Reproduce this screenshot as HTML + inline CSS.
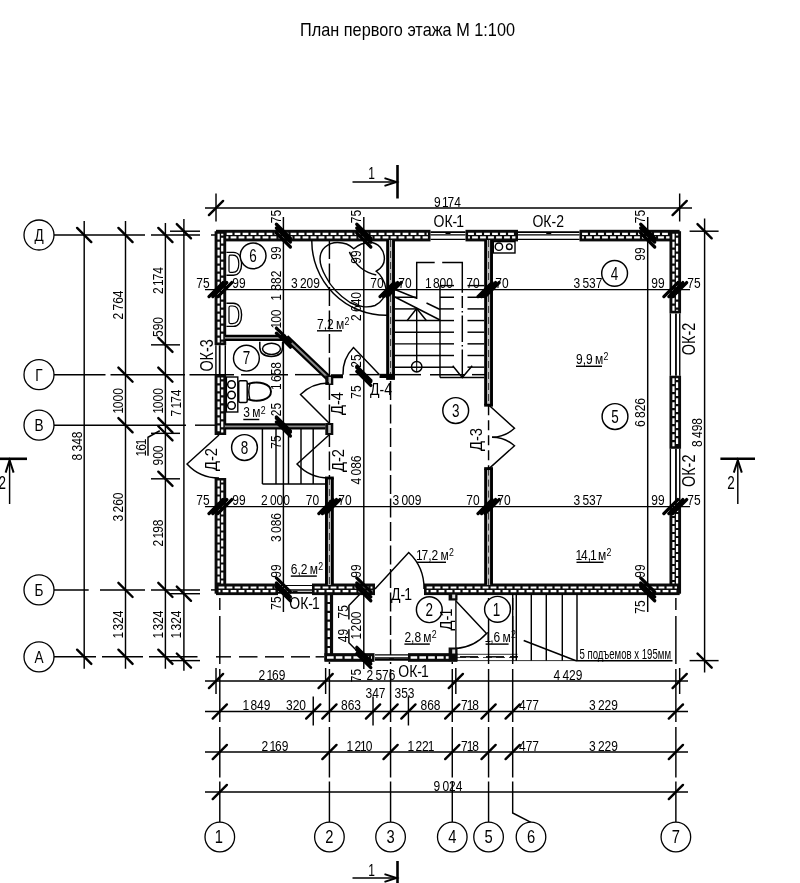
<!DOCTYPE html>
<html><head><meta charset="utf-8"><title>План первого этажа</title>
<style>
html,body{margin:0;padding:0;background:#fff;}
body{width:800px;height:883px;overflow:hidden;}
svg{display:block;font-family:"Liberation Sans",sans-serif;will-change:transform;}
</style></head><body>
<svg width="800" height="883" viewBox="0 0 800 883">
<rect x="0" y="0" width="800" height="883" fill="#fff"/>
<text x="300" y="36" font-size="18.5" textLength="215" lengthAdjust="spacingAndGlyphs" fill="#000">План первого этажа М 1:100</text>
<line x1="54.00" y1="235.00" x2="145.00" y2="235.00" stroke="#000" stroke-width="1.45"/>
<line x1="151.00" y1="235.00" x2="200.00" y2="235.00" stroke="#000" stroke-width="1.45"/>
<line x1="211.00" y1="235.00" x2="215.00" y2="235.00" stroke="#000" stroke-width="1.45"/>
<circle cx="39.00" cy="235.00" r="15.00" fill="#fff" stroke="#000" stroke-width="1.3"/>
<text transform="translate(39.00,241.00) rotate(0) scale(0.8,1)" font-size="17" text-anchor="middle" fill="#000">Д</text>
<line x1="54.00" y1="374.66" x2="105.50" y2="374.66" stroke="#000" stroke-width="1.45"/>
<line x1="110.50" y1="374.66" x2="185.00" y2="374.66" stroke="#000" stroke-width="1.45"/>
<line x1="189.50" y1="374.66" x2="234.00" y2="374.66" stroke="#000" stroke-width="1.45"/>
<line x1="241.00" y1="374.66" x2="288.00" y2="374.66" stroke="#000" stroke-width="1.45"/>
<line x1="295.00" y1="374.66" x2="321.50" y2="374.66" stroke="#000" stroke-width="1.45"/>
<line x1="349.50" y1="374.66" x2="379.00" y2="374.66" stroke="#000" stroke-width="1.45"/>
<line x1="395.00" y1="374.66" x2="421.00" y2="374.66" stroke="#000" stroke-width="1.45"/>
<line x1="430.00" y1="374.66" x2="465.00" y2="374.66" stroke="#000" stroke-width="1.45"/>
<line x1="472.00" y1="374.66" x2="489.50" y2="374.66" stroke="#000" stroke-width="1.45"/>
<circle cx="39.00" cy="374.66" r="15.00" fill="#fff" stroke="#000" stroke-width="1.3"/>
<text transform="translate(39.00,380.66) rotate(0) scale(0.8,1)" font-size="17" text-anchor="middle" fill="#000">Г</text>
<line x1="54.00" y1="425.19" x2="186.00" y2="425.19" stroke="#000" stroke-width="1.45"/>
<line x1="195.00" y1="425.19" x2="215.00" y2="425.19" stroke="#000" stroke-width="1.45"/>
<circle cx="39.00" cy="425.19" r="15.00" fill="#fff" stroke="#000" stroke-width="1.3"/>
<text transform="translate(39.00,431.19) rotate(0) scale(0.8,1)" font-size="17" text-anchor="middle" fill="#000">В</text>
<line x1="54.00" y1="589.92" x2="88.70" y2="589.92" stroke="#000" stroke-width="1.45"/>
<line x1="100.00" y1="589.92" x2="145.00" y2="589.92" stroke="#000" stroke-width="1.45"/>
<line x1="151.00" y1="589.92" x2="200.00" y2="589.92" stroke="#000" stroke-width="1.45"/>
<line x1="211.00" y1="589.92" x2="215.00" y2="589.92" stroke="#000" stroke-width="1.45"/>
<circle cx="39.00" cy="589.92" r="15.00" fill="#fff" stroke="#000" stroke-width="1.3"/>
<text transform="translate(39.00,595.92) rotate(0) scale(0.8,1)" font-size="17" text-anchor="middle" fill="#000">Б</text>
<line x1="54.00" y1="656.82" x2="96.00" y2="656.82" stroke="#000" stroke-width="1.45"/>
<line x1="102.00" y1="656.82" x2="143.00" y2="656.82" stroke="#000" stroke-width="1.45"/>
<line x1="149.00" y1="656.82" x2="197.50" y2="656.82" stroke="#000" stroke-width="1.45"/>
<line x1="216.00" y1="656.82" x2="231.00" y2="656.82" stroke="#000" stroke-width="1.45"/>
<line x1="239.00" y1="656.82" x2="257.50" y2="656.82" stroke="#000" stroke-width="1.45"/>
<line x1="265.00" y1="656.82" x2="284.00" y2="656.82" stroke="#000" stroke-width="1.45"/>
<line x1="291.00" y1="656.82" x2="310.00" y2="656.82" stroke="#000" stroke-width="1.45"/>
<line x1="315.60" y1="656.82" x2="324.00" y2="656.82" stroke="#000" stroke-width="1.45"/>
<line x1="460.00" y1="656.82" x2="478.00" y2="656.82" stroke="#000" stroke-width="1.45"/>
<line x1="486.00" y1="656.82" x2="504.00" y2="656.82" stroke="#000" stroke-width="1.45"/>
<line x1="510.00" y1="656.82" x2="518.00" y2="656.82" stroke="#000" stroke-width="1.45"/>
<circle cx="39.00" cy="656.82" r="15.00" fill="#fff" stroke="#000" stroke-width="1.3"/>
<text transform="translate(39.00,662.82) rotate(0) scale(0.8,1)" font-size="17" text-anchor="middle" fill="#000">А</text>
<line x1="219.80" y1="598.00" x2="219.80" y2="610.00" stroke="#000" stroke-width="1.45"/>
<line x1="219.80" y1="616.00" x2="219.80" y2="664.00" stroke="#000" stroke-width="1.45"/>
<line x1="219.80" y1="669.00" x2="219.80" y2="722.00" stroke="#000" stroke-width="1.45"/>
<line x1="219.80" y1="727.00" x2="219.80" y2="777.50" stroke="#000" stroke-width="1.45"/>
<line x1="219.80" y1="781.50" x2="219.80" y2="822.20" stroke="#000" stroke-width="1.45"/>
<circle cx="219.80" cy="837.00" r="14.80" fill="#fff" stroke="#000" stroke-width="1.3"/>
<text transform="translate(219.80,843.40) rotate(0) scale(0.82,1)" font-size="18" text-anchor="middle" fill="#000" dx="-1.25">1</text>
<line x1="329.42" y1="240.00" x2="329.42" y2="655.00" stroke="#000" stroke-width="1.45" stroke-dasharray="19 4.5"/>
<line x1="329.42" y1="662.00" x2="329.42" y2="664.00" stroke="#000" stroke-width="1.45"/>
<line x1="329.42" y1="669.00" x2="329.42" y2="722.00" stroke="#000" stroke-width="1.45"/>
<line x1="329.42" y1="727.00" x2="329.42" y2="777.50" stroke="#000" stroke-width="1.45"/>
<line x1="329.42" y1="781.50" x2="329.42" y2="822.20" stroke="#000" stroke-width="1.45"/>
<circle cx="329.42" cy="837.00" r="14.80" fill="#fff" stroke="#000" stroke-width="1.3"/>
<text transform="translate(329.42,843.40) rotate(0) scale(0.82,1)" font-size="18" text-anchor="middle" fill="#000">2</text>
<line x1="390.57" y1="240.00" x2="390.57" y2="655.00" stroke="#000" stroke-width="1.45" stroke-dasharray="19 4.5"/>
<line x1="390.57" y1="662.00" x2="390.57" y2="664.00" stroke="#000" stroke-width="1.45"/>
<line x1="390.57" y1="669.00" x2="390.57" y2="722.00" stroke="#000" stroke-width="1.45"/>
<line x1="390.57" y1="727.00" x2="390.57" y2="777.50" stroke="#000" stroke-width="1.45"/>
<line x1="390.57" y1="781.50" x2="390.57" y2="822.20" stroke="#000" stroke-width="1.45"/>
<circle cx="390.57" cy="837.00" r="14.80" fill="#fff" stroke="#000" stroke-width="1.3"/>
<text transform="translate(390.57,843.40) rotate(0) scale(0.82,1)" font-size="18" text-anchor="middle" fill="#000">3</text>
<line x1="452.28" y1="662.00" x2="452.28" y2="664.00" stroke="#000" stroke-width="1.45"/>
<line x1="452.28" y1="669.00" x2="452.28" y2="722.00" stroke="#000" stroke-width="1.45"/>
<line x1="452.28" y1="727.00" x2="452.28" y2="777.50" stroke="#000" stroke-width="1.45"/>
<line x1="452.28" y1="781.50" x2="452.28" y2="822.20" stroke="#000" stroke-width="1.45"/>
<circle cx="452.28" cy="837.00" r="14.80" fill="#fff" stroke="#000" stroke-width="1.3"/>
<text transform="translate(452.28,843.40) rotate(0) scale(0.82,1)" font-size="18" text-anchor="middle" fill="#000">4</text>
<line x1="488.57" y1="598.00" x2="488.57" y2="610.00" stroke="#000" stroke-width="1.45"/>
<line x1="488.57" y1="616.00" x2="488.57" y2="664.00" stroke="#000" stroke-width="1.45"/>
<line x1="488.57" y1="669.00" x2="488.57" y2="722.00" stroke="#000" stroke-width="1.45"/>
<line x1="488.57" y1="727.00" x2="488.57" y2="777.50" stroke="#000" stroke-width="1.45"/>
<line x1="488.57" y1="781.50" x2="488.57" y2="822.20" stroke="#000" stroke-width="1.45"/>
<circle cx="488.57" cy="837.00" r="14.80" fill="#fff" stroke="#000" stroke-width="1.3"/>
<text transform="translate(488.57,843.40) rotate(0) scale(0.82,1)" font-size="18" text-anchor="middle" fill="#000">5</text>
<line x1="512.68" y1="598.00" x2="512.68" y2="610.00" stroke="#000" stroke-width="1.45"/>
<line x1="512.68" y1="616.00" x2="512.68" y2="664.00" stroke="#000" stroke-width="1.45"/>
<line x1="512.68" y1="669.00" x2="512.68" y2="722.00" stroke="#000" stroke-width="1.45"/>
<line x1="512.68" y1="727.00" x2="512.68" y2="777.50" stroke="#000" stroke-width="1.45"/>
<polyline points="512.68,781.50 512.68,813.00 531.00,822.30" fill="none" stroke="#000" stroke-width="1.45"/>
<circle cx="531.00" cy="837.00" r="14.80" fill="#fff" stroke="#000" stroke-width="1.3"/>
<text transform="translate(531.00,843.40) rotate(0) scale(0.82,1)" font-size="18" text-anchor="middle" fill="#000">6</text>
<line x1="675.87" y1="598.00" x2="675.87" y2="610.00" stroke="#000" stroke-width="1.45"/>
<line x1="675.87" y1="616.00" x2="675.87" y2="664.00" stroke="#000" stroke-width="1.45"/>
<line x1="675.87" y1="669.00" x2="675.87" y2="722.00" stroke="#000" stroke-width="1.45"/>
<line x1="675.87" y1="727.00" x2="675.87" y2="777.50" stroke="#000" stroke-width="1.45"/>
<line x1="675.87" y1="781.50" x2="675.87" y2="822.20" stroke="#000" stroke-width="1.45"/>
<circle cx="675.87" cy="837.00" r="14.80" fill="#fff" stroke="#000" stroke-width="1.3"/>
<text transform="translate(675.87,843.40) rotate(0) scale(0.82,1)" font-size="18" text-anchor="middle" fill="#000">7</text>
<line x1="84.20" y1="221.00" x2="84.20" y2="668.82" stroke="#000" stroke-width="1.45"/>
<line x1="125.50" y1="221.00" x2="125.50" y2="668.82" stroke="#000" stroke-width="1.45"/>
<line x1="165.40" y1="223.00" x2="165.40" y2="668.82" stroke="#000" stroke-width="1.45"/>
<line x1="183.90" y1="219.00" x2="183.90" y2="670.82" stroke="#000" stroke-width="1.45"/>
<line x1="170.00" y1="231.21" x2="200.00" y2="231.21" stroke="#000" stroke-width="1.45"/>
<line x1="170.00" y1="593.71" x2="200.00" y2="593.71" stroke="#000" stroke-width="1.45"/>
<line x1="170.00" y1="660.61" x2="200.00" y2="660.61" stroke="#000" stroke-width="1.45"/>
<line x1="151.00" y1="344.85" x2="180.00" y2="344.85" stroke="#000" stroke-width="1.45"/>
<line x1="151.00" y1="433.33" x2="180.00" y2="433.33" stroke="#000" stroke-width="1.45"/>
<line x1="151.00" y1="478.81" x2="180.00" y2="478.81" stroke="#000" stroke-width="1.45"/>
<text transform="translate(81.70,446.00) rotate(-90) scale(0.8,1)" font-size="15" text-anchor="middle" fill="#000" dx="0.00 0.00 -1.30 0.00 0.00">8 348</text>
<text transform="translate(123.00,305.00) rotate(-90) scale(0.8,1)" font-size="15" text-anchor="middle" fill="#000" dx="0.00 0.00 -1.30 0.00 0.00">2 764</text>
<text transform="translate(123.00,400.00) rotate(-90) scale(0.8,1)" font-size="15" text-anchor="middle" fill="#000" dx="-1.25 -1.25 0.00 0.00">1000</text>
<text transform="translate(123.00,507.00) rotate(-90) scale(0.8,1)" font-size="15" text-anchor="middle" fill="#000" dx="0.00 0.00 -1.30 0.00 0.00">3 260</text>
<text transform="translate(123.00,623.50) rotate(-90) scale(0.8,1)" font-size="15" text-anchor="middle" fill="#000" dx="-1.25 -1.25 -1.30 0.00 0.00">1 324</text>
<text transform="translate(162.90,280.50) rotate(-90) scale(0.8,1)" font-size="15" text-anchor="middle" fill="#000" dx="0.00 0.00 -2.55 -1.25 0.00">2 174</text>
<text transform="translate(162.90,327.00) rotate(-90) scale(0.8,1)" font-size="15" text-anchor="middle" fill="#000">590</text>
<text transform="translate(162.90,400.00) rotate(-90) scale(0.8,1)" font-size="15" text-anchor="middle" fill="#000" dx="-1.25 -1.25 0.00 0.00">1000</text>
<text transform="translate(162.90,455.50) rotate(-90) scale(0.8,1)" font-size="15" text-anchor="middle" fill="#000">900</text>
<text transform="translate(162.90,533.00) rotate(-90) scale(0.8,1)" font-size="15" text-anchor="middle" fill="#000" dx="0.00 0.00 -2.55 -1.25 0.00">2 198</text>
<text transform="translate(162.90,623.50) rotate(-90) scale(0.8,1)" font-size="15" text-anchor="middle" fill="#000" dx="-1.25 -1.25 -1.30 0.00 0.00">1 324</text>
<text transform="translate(181.40,403.00) rotate(-90) scale(0.8,1)" font-size="15" text-anchor="middle" fill="#000" dx="0.00 0.00 -2.55 -1.25 0.00">7 174</text>
<text transform="translate(181.40,623.50) rotate(-90) scale(0.8,1)" font-size="15" text-anchor="middle" fill="#000" dx="-1.25 -1.25 -1.30 0.00 0.00">1 324</text>
<text transform="translate(146.20,446.50) rotate(-90) scale(0.8,1)" font-size="15" text-anchor="middle" fill="#000" dx="-1.25 -1.25 -1.25">161</text>
<polyline points="148.00,455.70 148.00,437.30 159.75,430.75" fill="none" stroke="#000" stroke-width="1.45"/>
<line x1="205.00" y1="681.00" x2="688.00" y2="681.00" stroke="#000" stroke-width="1.45"/>
<line x1="216.01" y1="668.00" x2="216.01" y2="694.00" stroke="#000" stroke-width="1.45"/>
<line x1="325.63" y1="668.00" x2="325.63" y2="694.00" stroke="#000" stroke-width="1.45"/>
<line x1="455.82" y1="668.00" x2="455.82" y2="694.00" stroke="#000" stroke-width="1.45"/>
<line x1="679.66" y1="668.00" x2="679.66" y2="694.00" stroke="#000" stroke-width="1.45"/>
<line x1="205.00" y1="711.50" x2="688.00" y2="711.50" stroke="#000" stroke-width="1.45"/>
<line x1="313.25" y1="696.50" x2="313.25" y2="725.50" stroke="#000" stroke-width="1.45"/>
<line x1="373.04" y1="696.50" x2="373.04" y2="725.50" stroke="#000" stroke-width="1.45"/>
<line x1="408.42" y1="696.50" x2="408.42" y2="725.50" stroke="#000" stroke-width="1.45"/>
<line x1="205.00" y1="752.00" x2="688.00" y2="752.00" stroke="#000" stroke-width="1.45"/>
<line x1="205.00" y1="792.00" x2="688.00" y2="792.00" stroke="#000" stroke-width="1.45"/>
<text transform="translate(272.00,679.60) rotate(0) scale(0.84,1)" font-size="14.3" text-anchor="middle" fill="#000" dx="0.00 0.00 -2.55 -1.25 0.00">2 169</text>
<text transform="translate(381.00,680.30) rotate(0) scale(0.84,1)" font-size="14.3" text-anchor="middle" fill="#000" dx="0.00 0.00 -1.30 0.00 0.00">2 576</text>
<text transform="translate(568.00,679.60) rotate(0) scale(0.84,1)" font-size="14.3" text-anchor="middle" fill="#000" dx="0.00 0.00 -1.30 0.00 0.00">4 429</text>
<text transform="translate(257.50,710.10) rotate(0) scale(0.84,1)" font-size="14.3" text-anchor="middle" fill="#000" dx="-1.25 -1.25 -1.30 0.00 0.00">1 849</text>
<text transform="translate(296.00,710.10) rotate(0) scale(0.84,1)" font-size="14.3" text-anchor="middle" fill="#000">320</text>
<text transform="translate(351.00,710.10) rotate(0) scale(0.84,1)" font-size="14.3" text-anchor="middle" fill="#000">863</text>
<text transform="translate(375.50,698.00) rotate(0) scale(0.84,1)" font-size="14.3" text-anchor="middle" fill="#000">347</text>
<text transform="translate(404.50,698.00) rotate(0) scale(0.84,1)" font-size="14.3" text-anchor="middle" fill="#000">353</text>
<text transform="translate(430.50,710.10) rotate(0) scale(0.84,1)" font-size="14.3" text-anchor="middle" fill="#000">868</text>
<text transform="translate(470.00,710.10) rotate(0) scale(0.84,1)" font-size="14.3" text-anchor="middle" fill="#000" dx="0.00 -1.25 -1.25">718</text>
<text transform="translate(529.00,710.10) rotate(0) scale(0.84,1)" font-size="14.3" text-anchor="middle" fill="#000">477</text>
<text transform="translate(603.50,710.10) rotate(0) scale(0.84,1)" font-size="14.3" text-anchor="middle" fill="#000" dx="0.00 0.00 -1.30 0.00 0.00">3 229</text>
<text transform="translate(275.00,750.60) rotate(0) scale(0.84,1)" font-size="14.3" text-anchor="middle" fill="#000" dx="0.00 0.00 -2.55 -1.25 0.00">2 169</text>
<text transform="translate(360.50,750.60) rotate(0) scale(0.84,1)" font-size="14.3" text-anchor="middle" fill="#000" dx="-1.25 -1.25 -1.30 -1.25 -1.25">1 210</text>
<text transform="translate(422.00,750.60) rotate(0) scale(0.84,1)" font-size="14.3" text-anchor="middle" fill="#000" dx="-1.25 -1.25 -1.30 0.00 -1.25">1 221</text>
<text transform="translate(470.00,750.60) rotate(0) scale(0.84,1)" font-size="14.3" text-anchor="middle" fill="#000" dx="0.00 -1.25 -1.25">718</text>
<text transform="translate(529.00,750.60) rotate(0) scale(0.84,1)" font-size="14.3" text-anchor="middle" fill="#000">477</text>
<text transform="translate(603.50,750.60) rotate(0) scale(0.84,1)" font-size="14.3" text-anchor="middle" fill="#000" dx="0.00 0.00 -1.30 0.00 0.00">3 229</text>
<text transform="translate(448.00,790.60) rotate(0) scale(0.84,1)" font-size="14.3" text-anchor="middle" fill="#000" dx="0.00 0.00 -1.30 0.00 0.00">9 024</text>
<line x1="205.00" y1="208.00" x2="692.00" y2="208.00" stroke="#000" stroke-width="1.45"/>
<line x1="216.01" y1="193.50" x2="216.01" y2="221.50" stroke="#000" stroke-width="1.45"/>
<line x1="679.66" y1="193.50" x2="679.66" y2="221.50" stroke="#000" stroke-width="1.45"/>
<text transform="translate(447.50,206.60) rotate(0) scale(0.84,1)" font-size="14.3" text-anchor="middle" fill="#000" dx="0.00 0.00 -2.55 -1.25 0.00">9 174</text>
<line x1="704.60" y1="218.50" x2="704.60" y2="672.61" stroke="#000" stroke-width="1.45"/>
<line x1="689.60" y1="231.21" x2="718.60" y2="231.21" stroke="#000" stroke-width="1.45"/>
<line x1="689.60" y1="660.61" x2="718.60" y2="660.61" stroke="#000" stroke-width="1.45"/>
<text transform="translate(702.10,432.50) rotate(-90) scale(0.8,1)" font-size="15" text-anchor="middle" fill="#000" dx="0.00 0.00 -1.30 0.00 0.00">8 498</text>
<line x1="205.00" y1="289.60" x2="690.00" y2="289.60" stroke="#000" stroke-width="1.45"/>
<line x1="205.00" y1="506.60" x2="690.00" y2="506.60" stroke="#000" stroke-width="1.45"/>
<line x1="283.40" y1="217.00" x2="283.40" y2="612.00" stroke="#000" stroke-width="1.45"/>
<line x1="363.80" y1="217.00" x2="363.80" y2="669.00" stroke="#000" stroke-width="1.45"/>
<line x1="647.70" y1="217.00" x2="647.70" y2="612.00" stroke="#000" stroke-width="1.45"/>
<text transform="translate(203.00,288.20) rotate(0) scale(0.84,1)" font-size="14.3" text-anchor="middle" fill="#000">75</text>
<text transform="translate(239.00,288.20) rotate(0) scale(0.84,1)" font-size="14.3" text-anchor="middle" fill="#000">99</text>
<text transform="translate(305.50,288.20) rotate(0) scale(0.84,1)" font-size="14.3" text-anchor="middle" fill="#000" dx="0.00 0.00 -1.30 0.00 0.00">3 209</text>
<text transform="translate(377.00,288.20) rotate(0) scale(0.84,1)" font-size="14.3" text-anchor="middle" fill="#000">70</text>
<text transform="translate(405.00,288.20) rotate(0) scale(0.84,1)" font-size="14.3" text-anchor="middle" fill="#000">70</text>
<text transform="translate(440.00,288.20) rotate(0) scale(0.84,1)" font-size="14.3" text-anchor="middle" fill="#000" dx="-1.25 -1.25 -1.30 0.00 0.00">1 800</text>
<text transform="translate(473.00,288.20) rotate(0) scale(0.84,1)" font-size="14.3" text-anchor="middle" fill="#000">70</text>
<text transform="translate(502.00,288.20) rotate(0) scale(0.84,1)" font-size="14.3" text-anchor="middle" fill="#000">70</text>
<text transform="translate(588.00,288.20) rotate(0) scale(0.84,1)" font-size="14.3" text-anchor="middle" fill="#000" dx="0.00 0.00 -1.30 0.00 0.00">3 537</text>
<text transform="translate(658.00,288.20) rotate(0) scale(0.84,1)" font-size="14.3" text-anchor="middle" fill="#000">99</text>
<text transform="translate(694.00,288.20) rotate(0) scale(0.84,1)" font-size="14.3" text-anchor="middle" fill="#000">75</text>
<text transform="translate(203.00,505.20) rotate(0) scale(0.84,1)" font-size="14.3" text-anchor="middle" fill="#000">75</text>
<text transform="translate(239.00,505.20) rotate(0) scale(0.84,1)" font-size="14.3" text-anchor="middle" fill="#000">99</text>
<text transform="translate(275.50,505.20) rotate(0) scale(0.84,1)" font-size="14.3" text-anchor="middle" fill="#000" dx="0.00 0.00 -1.30 0.00 0.00">2 000</text>
<text transform="translate(312.50,505.20) rotate(0) scale(0.84,1)" font-size="14.3" text-anchor="middle" fill="#000">70</text>
<text transform="translate(345.00,505.20) rotate(0) scale(0.84,1)" font-size="14.3" text-anchor="middle" fill="#000">70</text>
<text transform="translate(407.00,505.20) rotate(0) scale(0.84,1)" font-size="14.3" text-anchor="middle" fill="#000" dx="0.00 0.00 -1.30 0.00 0.00">3 009</text>
<text transform="translate(473.00,505.20) rotate(0) scale(0.84,1)" font-size="14.3" text-anchor="middle" fill="#000">70</text>
<text transform="translate(504.00,505.20) rotate(0) scale(0.84,1)" font-size="14.3" text-anchor="middle" fill="#000">70</text>
<text transform="translate(588.00,505.20) rotate(0) scale(0.84,1)" font-size="14.3" text-anchor="middle" fill="#000" dx="0.00 0.00 -1.30 0.00 0.00">3 537</text>
<text transform="translate(658.00,505.20) rotate(0) scale(0.84,1)" font-size="14.3" text-anchor="middle" fill="#000">99</text>
<text transform="translate(694.00,505.20) rotate(0) scale(0.84,1)" font-size="14.3" text-anchor="middle" fill="#000">75</text>
<text transform="translate(280.90,216.50) rotate(-90) scale(0.8,1)" font-size="15" text-anchor="middle" fill="#000">75</text>
<text transform="translate(280.90,253.00) rotate(-90) scale(0.8,1)" font-size="15" text-anchor="middle" fill="#000">99</text>
<text transform="translate(280.90,280.70) rotate(-90) scale(0.8,1)" font-size="15" text-anchor="middle" fill="#000">882</text>
<text transform="translate(280.90,296.50) rotate(-90) scale(0.8,1)" font-size="15" text-anchor="middle" fill="#000" dx="-1.25">1</text>
<text transform="translate(280.90,318.00) rotate(-90) scale(0.8,1)" font-size="15" text-anchor="middle" fill="#000" dx="-1.25 -1.25 0.00">100</text>
<text transform="translate(280.90,375.00) rotate(-90) scale(0.8,1)" font-size="15" text-anchor="middle" fill="#000" dx="-1.25 -1.25 -1.30 0.00 0.00">1 658</text>
<text transform="translate(280.90,409.50) rotate(-90) scale(0.8,1)" font-size="15" text-anchor="middle" fill="#000">25</text>
<text transform="translate(280.90,442.00) rotate(-90) scale(0.8,1)" font-size="15" text-anchor="middle" fill="#000">75</text>
<text transform="translate(280.90,527.50) rotate(-90) scale(0.8,1)" font-size="15" text-anchor="middle" fill="#000" dx="0.00 0.00 -1.30 0.00 0.00">3 086</text>
<text transform="translate(280.90,571.00) rotate(-90) scale(0.8,1)" font-size="15" text-anchor="middle" fill="#000">99</text>
<text transform="translate(280.90,603.00) rotate(-90) scale(0.8,1)" font-size="15" text-anchor="middle" fill="#000">75</text>
<text transform="translate(361.30,216.50) rotate(-90) scale(0.8,1)" font-size="15" text-anchor="middle" fill="#000">75</text>
<text transform="translate(361.30,257.00) rotate(-90) scale(0.8,1)" font-size="15" text-anchor="middle" fill="#000">99</text>
<text transform="translate(361.30,306.50) rotate(-90) scale(0.8,1)" font-size="15" text-anchor="middle" fill="#000" dx="0.00 0.00 -1.30 0.00 0.00">2 640</text>
<text transform="translate(361.30,361.00) rotate(-90) scale(0.8,1)" font-size="15" text-anchor="middle" fill="#000">25</text>
<text transform="translate(361.30,392.00) rotate(-90) scale(0.8,1)" font-size="15" text-anchor="middle" fill="#000">75</text>
<text transform="translate(361.30,470.00) rotate(-90) scale(0.8,1)" font-size="15" text-anchor="middle" fill="#000" dx="0.00 0.00 -1.30 0.00 0.00">4 086</text>
<text transform="translate(361.30,571.00) rotate(-90) scale(0.8,1)" font-size="15" text-anchor="middle" fill="#000">99</text>
<text transform="translate(361.30,624.50) rotate(-90) scale(0.8,1)" font-size="15" text-anchor="middle" fill="#000" dx="-1.25 -1.25 -1.30 0.00 0.00">1 200</text>
<text transform="translate(361.30,675.50) rotate(-90) scale(0.8,1)" font-size="15" text-anchor="middle" fill="#000">75</text>
<text transform="translate(347.60,611.80) rotate(-90) scale(0.8,1)" font-size="15" text-anchor="middle" fill="#000">75</text>
<text transform="translate(347.60,635.50) rotate(-90) scale(0.8,1)" font-size="15" text-anchor="middle" fill="#000">49</text>
<polyline points="361.50,592.50 348.90,605.60 348.90,619.60" fill="none" stroke="#000" stroke-width="1.45"/>
<polyline points="348.90,629.30 348.90,642.70 361.50,655.50" fill="none" stroke="#000" stroke-width="1.45"/>
<text transform="translate(645.20,216.50) rotate(-90) scale(0.8,1)" font-size="15" text-anchor="middle" fill="#000">75</text>
<text transform="translate(645.20,254.00) rotate(-90) scale(0.8,1)" font-size="15" text-anchor="middle" fill="#000">99</text>
<text transform="translate(645.20,412.50) rotate(-90) scale(0.8,1)" font-size="15" text-anchor="middle" fill="#000" dx="0.00 0.00 -1.30 0.00 0.00">6 826</text>
<text transform="translate(645.20,571.00) rotate(-90) scale(0.8,1)" font-size="15" text-anchor="middle" fill="#000">99</text>
<text transform="translate(645.20,607.00) rotate(-90) scale(0.8,1)" font-size="15" text-anchor="middle" fill="#000">75</text>
<rect x="216.01" y="229.81" width="214.49" height="11.59" fill="#0a0a0a"/>
<line x1="218.61" y1="233.81" x2="427.90" y2="233.81" stroke="#fff" stroke-width="2.2" stroke-dasharray="5.8 2.2" stroke-dashoffset="0"/>
<line x1="218.61" y1="237.40" x2="427.90" y2="237.40" stroke="#fff" stroke-width="2.2" stroke-dasharray="5.8 2.2" stroke-dashoffset="4"/>
<rect x="465.50" y="229.81" width="52.50" height="11.59" fill="#0a0a0a"/>
<line x1="468.10" y1="233.81" x2="515.40" y2="233.81" stroke="#fff" stroke-width="2.2" stroke-dasharray="5.8 2.2" stroke-dashoffset="0"/>
<line x1="468.10" y1="237.40" x2="515.40" y2="237.40" stroke="#fff" stroke-width="2.2" stroke-dasharray="5.8 2.2" stroke-dashoffset="4"/>
<rect x="579.50" y="229.81" width="100.16" height="11.59" fill="#0a0a0a"/>
<line x1="582.10" y1="233.81" x2="677.06" y2="233.81" stroke="#fff" stroke-width="2.2" stroke-dasharray="5.8 2.2" stroke-dashoffset="0"/>
<line x1="582.10" y1="237.40" x2="677.06" y2="237.40" stroke="#fff" stroke-width="2.2" stroke-dasharray="5.8 2.2" stroke-dashoffset="4"/>
<line x1="430.50" y1="232.11" x2="465.50" y2="232.11" stroke="#000" stroke-width="1.9"/>
<line x1="430.50" y1="234.90" x2="465.50" y2="234.90" stroke="#000" stroke-width="1.4"/>
<line x1="430.50" y1="239.40" x2="465.50" y2="239.40" stroke="#000" stroke-width="1.2"/>
<line x1="445.50" y1="233.51" x2="450.50" y2="233.51" stroke="#000" stroke-width="1.0"/>
<line x1="518.00" y1="232.11" x2="579.50" y2="232.11" stroke="#000" stroke-width="1.9"/>
<line x1="518.00" y1="234.90" x2="579.50" y2="234.90" stroke="#000" stroke-width="1.4"/>
<line x1="518.00" y1="239.40" x2="579.50" y2="239.40" stroke="#000" stroke-width="1.2"/>
<line x1="546.25" y1="233.51" x2="551.25" y2="233.51" stroke="#000" stroke-width="1.0"/>
<rect x="214.61" y="231.21" width="11.59" height="113.99" fill="#0a0a0a"/>
<line x1="218.61" y1="233.81" x2="218.61" y2="342.60" stroke="#fff" stroke-width="2.2" stroke-dasharray="5.8 2.2" stroke-dashoffset="0"/>
<line x1="222.20" y1="233.81" x2="222.20" y2="342.60" stroke="#fff" stroke-width="2.2" stroke-dasharray="5.8 2.2" stroke-dashoffset="4"/>
<rect x="214.61" y="374.90" width="11.59" height="60.10" fill="#0a0a0a"/>
<line x1="218.61" y1="377.50" x2="218.61" y2="432.40" stroke="#fff" stroke-width="2.2" stroke-dasharray="5.8 2.2" stroke-dashoffset="0"/>
<line x1="222.20" y1="377.50" x2="222.20" y2="432.40" stroke="#fff" stroke-width="2.2" stroke-dasharray="5.8 2.2" stroke-dashoffset="4"/>
<rect x="214.61" y="478.00" width="11.59" height="115.71" fill="#0a0a0a"/>
<line x1="218.61" y1="480.60" x2="218.61" y2="591.11" stroke="#fff" stroke-width="2.2" stroke-dasharray="5.8 2.2" stroke-dashoffset="0"/>
<line x1="222.20" y1="480.60" x2="222.20" y2="591.11" stroke="#fff" stroke-width="2.2" stroke-dasharray="5.8 2.2" stroke-dashoffset="4"/>
<line x1="215.91" y1="345.20" x2="215.91" y2="374.90" stroke="#000" stroke-width="1.4"/>
<line x1="219.71" y1="345.20" x2="219.71" y2="374.90" stroke="#000" stroke-width="1.8"/>
<line x1="225.30" y1="345.20" x2="225.30" y2="374.90" stroke="#000" stroke-width="1.4"/>
<rect x="669.47" y="231.21" width="11.59" height="82.19" fill="#0a0a0a"/>
<line x1="673.47" y1="233.81" x2="673.47" y2="310.80" stroke="#fff" stroke-width="2.2" stroke-dasharray="5.8 2.2" stroke-dashoffset="0"/>
<line x1="677.06" y1="233.81" x2="677.06" y2="310.80" stroke="#fff" stroke-width="2.2" stroke-dasharray="5.8 2.2" stroke-dashoffset="4"/>
<rect x="669.47" y="375.70" width="11.59" height="73.10" fill="#0a0a0a"/>
<line x1="673.47" y1="378.30" x2="673.47" y2="446.20" stroke="#fff" stroke-width="2.2" stroke-dasharray="5.8 2.2" stroke-dashoffset="0"/>
<line x1="677.06" y1="378.30" x2="677.06" y2="446.20" stroke="#fff" stroke-width="2.2" stroke-dasharray="5.8 2.2" stroke-dashoffset="4"/>
<rect x="669.47" y="507.50" width="11.59" height="86.21" fill="#0a0a0a"/>
<line x1="673.47" y1="510.10" x2="673.47" y2="591.11" stroke="#fff" stroke-width="2.2" stroke-dasharray="5.8 2.2" stroke-dashoffset="0"/>
<line x1="677.06" y1="510.10" x2="677.06" y2="591.11" stroke="#fff" stroke-width="2.2" stroke-dasharray="5.8 2.2" stroke-dashoffset="4"/>
<line x1="679.76" y1="313.40" x2="679.76" y2="375.70" stroke="#000" stroke-width="1.4"/>
<line x1="675.96" y1="313.40" x2="675.96" y2="375.70" stroke="#000" stroke-width="1.8"/>
<line x1="670.37" y1="313.40" x2="670.37" y2="375.70" stroke="#000" stroke-width="1.4"/>
<line x1="679.76" y1="448.80" x2="679.76" y2="507.50" stroke="#000" stroke-width="1.4"/>
<line x1="675.96" y1="448.80" x2="675.96" y2="507.50" stroke="#000" stroke-width="1.8"/>
<line x1="670.37" y1="448.80" x2="670.37" y2="507.50" stroke="#000" stroke-width="1.4"/>
<rect x="216.01" y="583.52" width="61.99" height="11.59" fill="#0a0a0a"/>
<line x1="218.61" y1="587.52" x2="275.40" y2="587.52" stroke="#fff" stroke-width="2.2" stroke-dasharray="5.8 2.2" stroke-dashoffset="0"/>
<line x1="218.61" y1="591.11" x2="275.40" y2="591.11" stroke="#fff" stroke-width="2.2" stroke-dasharray="5.8 2.2" stroke-dashoffset="4"/>
<rect x="312.00" y="583.52" width="63.00" height="11.59" fill="#0a0a0a"/>
<line x1="314.60" y1="587.52" x2="372.40" y2="587.52" stroke="#fff" stroke-width="2.2" stroke-dasharray="5.8 2.2" stroke-dashoffset="0"/>
<line x1="314.60" y1="591.11" x2="372.40" y2="591.11" stroke="#fff" stroke-width="2.2" stroke-dasharray="5.8 2.2" stroke-dashoffset="4"/>
<rect x="424.00" y="583.52" width="255.66" height="11.59" fill="#0a0a0a"/>
<line x1="426.60" y1="587.52" x2="677.06" y2="587.52" stroke="#fff" stroke-width="2.2" stroke-dasharray="5.8 2.2" stroke-dashoffset="0"/>
<line x1="426.60" y1="591.11" x2="677.06" y2="591.11" stroke="#fff" stroke-width="2.2" stroke-dasharray="5.8 2.2" stroke-dashoffset="4"/>
<line x1="278.00" y1="592.81" x2="312.00" y2="592.81" stroke="#000" stroke-width="1.9"/>
<line x1="278.00" y1="590.02" x2="312.00" y2="590.02" stroke="#000" stroke-width="1.4"/>
<line x1="278.00" y1="585.52" x2="312.00" y2="585.52" stroke="#000" stroke-width="1.2"/>
<line x1="292.50" y1="591.42" x2="297.50" y2="591.42" stroke="#000" stroke-width="1.0"/>
<rect x="324.43" y="592.71" width="8.67" height="67.90" fill="#0a0a0a"/>
<line x1="328.76" y1="595.31" x2="328.76" y2="658.01" stroke="#fff" stroke-width="2.3" stroke-dasharray="6.6 2.2"/>
<rect x="324.43" y="653.15" width="50.07" height="8.67" fill="#0a0a0a"/>
<line x1="327.03" y1="657.48" x2="371.90" y2="657.48" stroke="#fff" stroke-width="2.3" stroke-dasharray="6.6 2.2"/>
<rect x="408.00" y="653.15" width="49.32" height="8.67" fill="#0a0a0a"/>
<line x1="410.60" y1="657.48" x2="454.72" y2="657.48" stroke="#fff" stroke-width="2.3" stroke-dasharray="6.6 2.2"/>
<line x1="375.00" y1="659.71" x2="408.00" y2="659.71" stroke="#000" stroke-width="1.9"/>
<line x1="375.00" y1="657.98" x2="408.00" y2="657.98" stroke="#000" stroke-width="1.4"/>
<line x1="375.00" y1="654.95" x2="408.00" y2="654.95" stroke="#000" stroke-width="1.2"/>
<line x1="389.00" y1="658.85" x2="394.00" y2="658.85" stroke="#000" stroke-width="1.0"/>
<rect x="387.62" y="240.00" width="5.90" height="138.45" fill="#c0c0c0"/>
<line x1="390.57" y1="240.00" x2="390.57" y2="378.45" stroke="#333" stroke-width="1.0" stroke-dasharray="7 4"/>
<line x1="387.62" y1="240.00" x2="387.62" y2="378.45" stroke="#000" stroke-width="2.9"/>
<line x1="393.52" y1="240.00" x2="393.52" y2="378.45" stroke="#000" stroke-width="2.9"/>
<line x1="386.17" y1="378.45" x2="394.97" y2="378.45" stroke="#000" stroke-width="2.9"/>
<rect x="485.62" y="240.00" width="5.90" height="165.20" fill="#c0c0c0"/>
<line x1="488.57" y1="240.00" x2="488.57" y2="405.20" stroke="#333" stroke-width="1.0" stroke-dasharray="7 4"/>
<line x1="485.62" y1="240.00" x2="485.62" y2="405.20" stroke="#000" stroke-width="2.9"/>
<line x1="491.52" y1="240.00" x2="491.52" y2="405.20" stroke="#000" stroke-width="2.9"/>
<line x1="484.17" y1="405.20" x2="492.97" y2="405.20" stroke="#000" stroke-width="2.9"/>
<rect x="485.62" y="468.60" width="5.90" height="116.32" fill="#c0c0c0"/>
<line x1="488.57" y1="468.60" x2="488.57" y2="584.92" stroke="#333" stroke-width="1.0" stroke-dasharray="7 4"/>
<line x1="485.62" y1="468.60" x2="485.62" y2="584.92" stroke="#000" stroke-width="2.9"/>
<line x1="491.52" y1="468.60" x2="491.52" y2="584.92" stroke="#000" stroke-width="2.9"/>
<line x1="484.17" y1="468.60" x2="492.97" y2="468.60" stroke="#000" stroke-width="2.9"/>
<rect x="326.47" y="478.00" width="5.90" height="106.92" fill="#c0c0c0"/>
<line x1="329.42" y1="478.00" x2="329.42" y2="584.92" stroke="#333" stroke-width="1.0" stroke-dasharray="7 4"/>
<line x1="326.47" y1="478.00" x2="326.47" y2="584.92" stroke="#000" stroke-width="2.9"/>
<line x1="332.37" y1="478.00" x2="332.37" y2="584.92" stroke="#000" stroke-width="2.9"/>
<line x1="325.02" y1="478.00" x2="333.82" y2="478.00" stroke="#000" stroke-width="2.9"/>
<line x1="379.50" y1="375.93" x2="394.07" y2="375.93" stroke="#000" stroke-width="4.2"/>
<rect x="224.80" y="335.93" width="61.20" height="4.00" fill="#8c8c8c"/>
<line x1="224.80" y1="335.93" x2="286.00" y2="335.93" stroke="#000" stroke-width="2.2"/>
<line x1="224.80" y1="339.93" x2="286.00" y2="339.93" stroke="#000" stroke-width="2.2"/>
<polygon points="284.55,339.15 327.55,380.02 330.45,376.98 287.45,336.10" fill="#8c8c8c" stroke="none" stroke-width="0"/>
<line x1="282.55" y1="337.15" x2="327.55" y2="380.02" stroke="#000" stroke-width="2.2"/>
<line x1="287.45" y1="336.10" x2="330.45" y2="376.98" stroke="#000" stroke-width="2.2"/>
<rect x="325.30" y="375.50" width="8.00" height="9.50" fill="#0a0a0a"/>
<rect x="328.50" y="377.00" width="2.50" height="6.50" fill="#c0c0c0"/>
<line x1="331.00" y1="376.23" x2="343.00" y2="376.23" stroke="#000" stroke-width="4.0"/>
<rect x="224.80" y="424.46" width="100.70" height="4.00" fill="#8c8c8c"/>
<line x1="224.80" y1="424.46" x2="325.50" y2="424.46" stroke="#000" stroke-width="2.2"/>
<line x1="224.80" y1="428.46" x2="325.50" y2="428.46" stroke="#000" stroke-width="2.2"/>
<rect x="325.30" y="423.00" width="8.00" height="12.00" fill="#0a0a0a"/>
<rect x="328.20" y="425.00" width="2.60" height="8.00" fill="#c0c0c0"/>
<line x1="440.00" y1="285.60" x2="454.00" y2="285.60" stroke="#000" stroke-width="1.45"/>
<line x1="467.50" y1="285.60" x2="484.23" y2="285.60" stroke="#000" stroke-width="1.45"/>
<line x1="440.00" y1="297.25" x2="454.00" y2="297.25" stroke="#000" stroke-width="1.45"/>
<line x1="467.50" y1="297.25" x2="484.23" y2="297.25" stroke="#000" stroke-width="1.45"/>
<line x1="440.00" y1="308.90" x2="454.00" y2="308.90" stroke="#000" stroke-width="1.45"/>
<line x1="467.50" y1="308.90" x2="484.23" y2="308.90" stroke="#000" stroke-width="1.45"/>
<line x1="440.00" y1="320.55" x2="454.00" y2="320.55" stroke="#000" stroke-width="1.45"/>
<line x1="467.50" y1="320.55" x2="484.23" y2="320.55" stroke="#000" stroke-width="1.45"/>
<line x1="394.91" y1="320.55" x2="440.00" y2="320.55" stroke="#000" stroke-width="1.45"/>
<line x1="440.00" y1="332.20" x2="454.00" y2="332.20" stroke="#000" stroke-width="1.45"/>
<line x1="467.50" y1="332.20" x2="484.23" y2="332.20" stroke="#000" stroke-width="1.45"/>
<line x1="394.91" y1="332.20" x2="440.00" y2="332.20" stroke="#000" stroke-width="1.45"/>
<line x1="440.00" y1="343.85" x2="454.00" y2="343.85" stroke="#000" stroke-width="1.45"/>
<line x1="467.50" y1="343.85" x2="484.23" y2="343.85" stroke="#000" stroke-width="1.45"/>
<line x1="394.91" y1="343.85" x2="440.00" y2="343.85" stroke="#000" stroke-width="1.45"/>
<line x1="440.00" y1="355.50" x2="454.00" y2="355.50" stroke="#000" stroke-width="1.45"/>
<line x1="467.50" y1="355.50" x2="484.23" y2="355.50" stroke="#000" stroke-width="1.45"/>
<line x1="394.91" y1="355.50" x2="440.00" y2="355.50" stroke="#000" stroke-width="1.45"/>
<line x1="440.00" y1="367.15" x2="454.00" y2="367.15" stroke="#000" stroke-width="1.45"/>
<line x1="467.50" y1="367.15" x2="484.23" y2="367.15" stroke="#000" stroke-width="1.45"/>
<line x1="394.91" y1="367.15" x2="440.00" y2="367.15" stroke="#000" stroke-width="1.45"/>
<line x1="394.91" y1="297.25" x2="416.00" y2="297.25" stroke="#000" stroke-width="1.45"/>
<line x1="394.91" y1="308.90" x2="418.00" y2="308.90" stroke="#000" stroke-width="1.45"/>
<line x1="440.00" y1="285.60" x2="440.00" y2="377.50" stroke="#000" stroke-width="1.45"/>
<line x1="440.00" y1="377.50" x2="484.23" y2="377.50" stroke="#000" stroke-width="1.45"/>
<line x1="394.91" y1="289.50" x2="416.00" y2="298.00" stroke="#000" stroke-width="1.45"/>
<line x1="426.50" y1="303.00" x2="440.00" y2="309.50" stroke="#000" stroke-width="1.45"/>
<line x1="394.91" y1="297.00" x2="440.00" y2="320.00" stroke="#000" stroke-width="1.45"/>
<line x1="416.70" y1="308.50" x2="416.70" y2="361.50" stroke="#000" stroke-width="1.45"/>
<circle cx="416.70" cy="366.70" r="5.20" fill="none" stroke="#000" stroke-width="1.45"/>
<line x1="416.70" y1="361.50" x2="416.70" y2="372.00" stroke="#000" stroke-width="1"/>
<polyline points="407.00,320.80 416.70,308.50 426.50,320.80" fill="none" stroke="#000" stroke-width="1.45"/>
<polyline points="416.70,299.00 416.70,262.50 434.70,262.50" fill="none" stroke="#000" stroke-width="1.45"/>
<polyline points="442.20,262.50 462.30,262.50 462.30,292.70" fill="none" stroke="#000" stroke-width="1.45"/>
<line x1="462.30" y1="296.00" x2="462.30" y2="377.00" stroke="#000" stroke-width="1.45" stroke-dasharray="12 3 1.5 3 26.5 3 1.5 3 27.5 3"/>
<polyline points="452.70,365.80 462.30,377.50 472.20,365.80" fill="none" stroke="#000" stroke-width="1.45"/>
<line x1="262.40" y1="428.86" x2="262.40" y2="484.00" stroke="#000" stroke-width="1.45"/>
<line x1="276.00" y1="428.86" x2="276.00" y2="484.00" stroke="#000" stroke-width="1.45"/>
<line x1="288.50" y1="428.86" x2="288.50" y2="484.00" stroke="#000" stroke-width="1.45"/>
<line x1="301.00" y1="428.86" x2="301.00" y2="484.00" stroke="#000" stroke-width="1.45"/>
<line x1="313.20" y1="428.86" x2="313.20" y2="484.00" stroke="#000" stroke-width="1.45"/>
<line x1="262.40" y1="484.00" x2="325.30" y2="484.00" stroke="#000" stroke-width="1.45"/>
<line x1="516.30" y1="593.71" x2="516.30" y2="660.70" stroke="#000" stroke-width="1.45"/>
<line x1="531.30" y1="593.71" x2="531.30" y2="660.70" stroke="#000" stroke-width="1.45"/>
<line x1="546.30" y1="593.71" x2="546.30" y2="660.70" stroke="#000" stroke-width="1.45"/>
<line x1="562.30" y1="593.71" x2="562.30" y2="660.70" stroke="#000" stroke-width="1.45"/>
<line x1="577.00" y1="593.71" x2="577.00" y2="660.70" stroke="#000" stroke-width="1.45"/>
<line x1="512.70" y1="593.71" x2="512.70" y2="660.70" stroke="#000" stroke-width="1.45"/>
<line x1="457.00" y1="654.30" x2="517.50" y2="654.30" stroke="#000" stroke-width="0.8"/>
<line x1="457.00" y1="660.60" x2="577.00" y2="660.60" stroke="#000" stroke-width="0.8"/>
<line x1="457.00" y1="657.50" x2="517.00" y2="657.50" stroke="#000" stroke-width="0.7" stroke-dasharray="9 4"/>
<line x1="523.70" y1="640.50" x2="576.00" y2="660.70" stroke="#000" stroke-width="1.45"/>
<line x1="576.00" y1="660.70" x2="672.50" y2="660.70" stroke="#000" stroke-width="1.45"/>
<text x="579.5" y="659.3" font-size="14" textLength="91.5" lengthAdjust="spacingAndGlyphs" fill="#000">5 подъемов х 195мм</text>
<path d="M329,423 L300.5,394.5 A40.3,40.3 0 0 1 329,383" fill="none" stroke="#000" stroke-width="1.45"/>
<path d="M379.5,374.7 L353.5,347.5 A37,37 0 0 0 343,374.7" fill="none" stroke="#000" stroke-width="1.45"/>
<path d="M219,435 L187,464 A43,43 0 0 0 219,478" fill="none" stroke="#000" stroke-width="1.45"/>
<path d="M329,435 L297,464 A43,43 0 0 0 329,478" fill="none" stroke="#000" stroke-width="1.45"/>
<path d="M489,405.2 L514.5,428.3 A34,34 0 0 1 492,437.2" fill="none" stroke="#000" stroke-width="1.45"/>
<path d="M489,468.6 L514.5,445.8 A34,34 0 0 0 492,437.2" fill="none" stroke="#000" stroke-width="1.45"/>
<line x1="488.57" y1="405.20" x2="488.57" y2="468.60" stroke="#000" stroke-width="1.45" stroke-dasharray="10 5"/>
<path d="M375,588.9 L408.7,552.5 A49,49 0 0 1 424,588.9" fill="none" stroke="#000" stroke-width="1.45"/>
<path d="M456,601 L486.5,633.5 A45,45 0 0 1 456,648.5" fill="none" stroke="#000" stroke-width="1.45"/>
<line x1="455.90" y1="600.00" x2="455.90" y2="648.00" stroke="#000" stroke-width="1.3"/>
<rect x="448.60" y="593.21" width="8.90" height="7.29" fill="#0a0a0a"/>
<rect x="452.20" y="594.60" width="3.00" height="3.70" fill="#ddd"/>
<rect x="448.60" y="647.50" width="8.90" height="13.71" fill="#0a0a0a"/>
<rect x="452.20" y="649.50" width="3.00" height="4.00" fill="#ddd"/>
<path d="M226.4,252.4 L233.42,252.4 C238.88,252.4 241.60,257.31 241.60,263.80 C241.60,270.30 238.88,275.2 233.42,275.2 L226.4,275.2" fill="none" stroke="#000" stroke-width="1.4"/>
<path d="M230.5,255.20000000000002 L232.73,255.20000000000002 C237.18,255.20000000000002 238.80,259.25 238.80,263.80 C238.80,268.35 237.18,272.40000000000003 232.73,272.40000000000003 L230.5,272.40000000000003 Q229.0,272.40000000000003 229.0,270.90000000000003 L229.0,256.70000000000005 Q229.0,255.20000000000002 230.5,255.20000000000002 Z" fill="none" stroke="#000" stroke-width="1.2"/>
<path d="M226.4,303.2 L233.28,303.2 C238.82,303.2 241.60,308.19 241.60,314.80 C241.60,321.40 238.82,326.4 233.28,326.4 L226.4,326.4" fill="none" stroke="#000" stroke-width="1.4"/>
<path d="M230.5,306.0 L232.58,306.0 C237.14,306.0 238.80,310.15 238.80,314.80 C238.80,319.45 237.14,323.6 232.58,323.6 L230.5,323.6 Q229.0,323.6 229.0,322.1 L229.0,307.5 Q229.0,306.0 230.5,306.0 Z" fill="none" stroke="#000" stroke-width="1.2"/>
<path d="M259.8,341.8 L259.8,347 C259.8,353.5 264.5,356.4 271.3,356.4 C278,356.4 282.6,353.5 282.6,347 L282.6,341.8" fill="none" stroke="#000" stroke-width="1.5"/>
<ellipse cx="271.50" cy="348.80" rx="9.00" ry="5.60" fill="none" stroke="#000" stroke-width="1.5"/>
<path d="M240.2,380.7 L245.7,380.7 Q247.2,380.7 247.2,382.2 L247.2,401.1 Q247.2,402.6 245.7,402.6 L240.2,402.6 Q238.7,402.6 238.7,401.1 L238.7,382.2 Q238.7,380.7 240.2,380.7 Z" fill="none" stroke="#000" stroke-width="1.5"/>
<path d="M247.2,384.2 L250,383.4 C258,381.3 271,383 271,391.6 C271,400.2 258,402 250,399.9 L247.2,399.2" fill="none" stroke="#000" stroke-width="1.9"/>
<path d="M250,383.4 C248.6,388 248.6,395 250,399.9" fill="none" stroke="#000" stroke-width="1.4"/>
<rect x="226.40" y="377.00" width="11.40" height="35.00" fill="none" stroke="#000" stroke-width="1.4"/>
<circle cx="231.50" cy="384.50" r="3.80" fill="none" stroke="#000" stroke-width="1.5"/>
<circle cx="231.50" cy="395.00" r="3.80" fill="none" stroke="#000" stroke-width="1.5"/>
<circle cx="231.50" cy="405.50" r="3.80" fill="none" stroke="#000" stroke-width="1.5"/>
<rect x="493.30" y="241.60" width="21.70" height="11.40" fill="none" stroke="#000" stroke-width="1.4"/>
<circle cx="498.90" cy="246.70" r="3.70" fill="none" stroke="#000" stroke-width="1.4"/>
<circle cx="509.30" cy="246.70" r="2.80" fill="none" stroke="#000" stroke-width="1.4"/>
<path d="M311.8,240.0 A74.3,74.3 0 0 0 387.0,315.3" fill="none" stroke="#000" stroke-width="1.45"/>
<path d="M320,259 C320,249 328,242.5 337.5,242.5 C345,242.5 350,245 353.75,248.75 C358,245 363,242.5 370,242.5 C378,242.5 384.4,250 384.4,258.75 C384.4,264 381,268.5 376.25,271.25 C380,274 385,281 386,289 C386,296 381,303 375,305.5 C368,308 358,307 350,302.5 C340,296 331,287 326,277 C322,270 320,264 320,259 Z" fill="none" stroke="#000" stroke-width="1.45"/>
<path d="M349.4,251.9 C352,258 356,264 361,268 C366,272 371,274 376.25,275" fill="none" stroke="#000" stroke-width="1.45"/>
<circle cx="253.10" cy="255.80" r="12.90" fill="#fff" stroke="#000" stroke-width="1.45"/>
<text transform="translate(253.10,262.00) rotate(0) scale(0.77,1)" font-size="17.5" text-anchor="middle" fill="#000">6</text>
<circle cx="246.40" cy="358.20" r="12.90" fill="#fff" stroke="#000" stroke-width="1.45"/>
<text transform="translate(246.40,364.40) rotate(0) scale(0.77,1)" font-size="17.5" text-anchor="middle" fill="#000">7</text>
<circle cx="244.50" cy="447.50" r="12.90" fill="#fff" stroke="#000" stroke-width="1.45"/>
<text transform="translate(244.50,453.70) rotate(0) scale(0.77,1)" font-size="17.5" text-anchor="middle" fill="#000">8</text>
<circle cx="455.70" cy="410.50" r="12.90" fill="#fff" stroke="#000" stroke-width="1.45"/>
<text transform="translate(455.70,416.70) rotate(0) scale(0.77,1)" font-size="17.5" text-anchor="middle" fill="#000">3</text>
<circle cx="615.00" cy="416.50" r="12.90" fill="#fff" stroke="#000" stroke-width="1.45"/>
<text transform="translate(615.00,422.70) rotate(0) scale(0.77,1)" font-size="17.5" text-anchor="middle" fill="#000">5</text>
<circle cx="614.60" cy="273.30" r="12.90" fill="#fff" stroke="#000" stroke-width="1.45"/>
<text transform="translate(614.60,279.50) rotate(0) scale(0.77,1)" font-size="17.5" text-anchor="middle" fill="#000">4</text>
<circle cx="429.30" cy="609.70" r="12.90" fill="#fff" stroke="#000" stroke-width="1.45"/>
<text transform="translate(429.30,615.90) rotate(0) scale(0.77,1)" font-size="17.5" text-anchor="middle" fill="#000">2</text>
<circle cx="497.50" cy="609.30" r="12.90" fill="#fff" stroke="#000" stroke-width="1.45"/>
<text transform="translate(497.50,615.50) rotate(0) scale(0.77,1)" font-size="17.5" text-anchor="middle" fill="#000" dx="-1.25">1</text>
<text transform="translate(317.00,328.50) scale(0.84,1)" font-size="14.3" text-anchor="start" fill="#000" dx="0.00 0.00 0.00 0.00 -1.30">7,2 м<tspan dy="-3.6" dx="0.3" font-size="10.5">2</tspan></text>
<line x1="317.00" y1="330.80" x2="342.00" y2="330.80" stroke="#000" stroke-width="1.45"/>
<text transform="translate(243.30,417.20) scale(0.84,1)" font-size="14.3" text-anchor="start" fill="#000" dx="0.00 0.00 -1.30">3 м<tspan dy="-3.6" dx="0.3" font-size="10.5">2</tspan></text>
<line x1="243.30" y1="419.50" x2="259.30" y2="419.50" stroke="#000" stroke-width="1.45"/>
<text transform="translate(290.80,573.80) scale(0.84,1)" font-size="14.3" text-anchor="start" fill="#000" dx="0.00 0.00 0.00 0.00 -1.30">6,2 м<tspan dy="-3.6" dx="0.3" font-size="10.5">2</tspan></text>
<line x1="290.80" y1="576.10" x2="316.80" y2="576.10" stroke="#000" stroke-width="1.45"/>
<text transform="translate(417.00,560.00) scale(0.84,1)" font-size="14.3" text-anchor="start" fill="#000" dx="-1.25 -1.25 0.00 0.00 0.00 -1.30">17,2 м<tspan dy="-3.6" dx="0.3" font-size="10.5">2</tspan></text>
<line x1="417.00" y1="562.30" x2="446.00" y2="562.30" stroke="#000" stroke-width="1.45"/>
<text transform="translate(576.00,364.00) scale(0.84,1)" font-size="14.3" text-anchor="start" fill="#000" dx="0.00 0.00 0.00 0.00 -1.30">9,9 м<tspan dy="-3.6" dx="0.3" font-size="10.5">2</tspan></text>
<line x1="576.00" y1="366.30" x2="602.00" y2="366.30" stroke="#000" stroke-width="1.45"/>
<text transform="translate(576.50,560.00) scale(0.84,1)" font-size="14.3" text-anchor="start" fill="#000" dx="-1.25 -1.25 0.00 -1.25 -1.25 -1.30">14,1 м<tspan dy="-3.6" dx="0.3" font-size="10.5">2</tspan></text>
<line x1="576.50" y1="562.30" x2="603.50" y2="562.30" stroke="#000" stroke-width="1.45"/>
<text transform="translate(404.40,641.80) scale(0.84,1)" font-size="14.3" text-anchor="start" fill="#000" dx="0.00 0.00 0.00 0.00 -1.30">2,8 м<tspan dy="-3.6" dx="0.3" font-size="10.5">2</tspan></text>
<line x1="404.40" y1="644.10" x2="429.80" y2="644.10" stroke="#000" stroke-width="1.45"/>
<text transform="translate(485.60,641.80) scale(0.84,1)" font-size="14.3" text-anchor="start" fill="#000" dx="-1.25 -1.25 0.00 0.00 -1.30">1,6 м<tspan dy="-3.6" dx="0.3" font-size="10.5">2</tspan></text>
<line x1="485.60" y1="644.10" x2="508.60" y2="644.10" stroke="#000" stroke-width="1.45"/>
<text transform="translate(448.70,227.30) rotate(0) scale(0.86,1)" font-size="16.3" text-anchor="middle" fill="#000" dx="0.00 0.00 0.00 -1.25">ОК-1</text>
<text transform="translate(548.20,227.30) rotate(0) scale(0.86,1)" font-size="16.3" text-anchor="middle" fill="#000">ОК-2</text>
<text transform="translate(304.50,609.30) rotate(0) scale(0.86,1)" font-size="16.3" text-anchor="middle" fill="#000" dx="0.00 0.00 0.00 -1.25">ОК-1</text>
<text transform="translate(413.50,676.50) rotate(0) scale(0.86,1)" font-size="16.3" text-anchor="middle" fill="#000" dx="0.00 0.00 0.00 -1.25">ОК-1</text>
<text transform="translate(213.00,355.40) rotate(-90) scale(0.8,1)" font-size="18" text-anchor="middle" fill="#000">ОК-3</text>
<text transform="translate(695.30,339.00) rotate(-90) scale(0.8,1)" font-size="18" text-anchor="middle" fill="#000">ОК-2</text>
<text transform="translate(695.30,470.80) rotate(-90) scale(0.8,1)" font-size="18" text-anchor="middle" fill="#000">ОК-2</text>
<text transform="translate(217.30,459.50) rotate(-90) scale(0.92,1)" font-size="16" text-anchor="middle" fill="#000">Д-2</text>
<text transform="translate(344.00,460.50) rotate(-90) scale(0.92,1)" font-size="16" text-anchor="middle" fill="#000">Д-2</text>
<text transform="translate(343.30,403.50) rotate(-90) scale(0.92,1)" font-size="16" text-anchor="middle" fill="#000">Д-4</text>
<text transform="translate(381.00,395.00) rotate(0) scale(0.86,1)" font-size="16.3" text-anchor="middle" fill="#000">Д-4</text>
<text transform="translate(481.50,439.50) rotate(-90) scale(0.92,1)" font-size="16" text-anchor="middle" fill="#000">Д-3</text>
<text transform="translate(401.50,599.70) rotate(0) scale(0.86,1)" font-size="16.3" text-anchor="middle" fill="#000" dx="0.00 0.00 -1.25">Д-1</text>
<text transform="translate(452.00,619.50) rotate(-90) scale(0.92,1)" font-size="16" text-anchor="middle" fill="#000" dx="0.00 0.00 -1.25">Д-1</text>
<line x1="397.50" y1="165.00" x2="397.50" y2="198.50" stroke="#000" stroke-width="2.6"/>
<line x1="352.50" y1="182.00" x2="397.00" y2="182.00" stroke="#000" stroke-width="1.45"/>
<polyline points="384.50,178.20 396.50,182.00 384.50,185.80" fill="none" stroke="#000" stroke-width="1.9"/>
<text transform="translate(372.50,179.00) rotate(0) scale(0.75,1)" font-size="16" text-anchor="middle" fill="#000" dx="-1.25">1</text>
<line x1="397.50" y1="861.00" x2="397.50" y2="883.00" stroke="#000" stroke-width="2.6"/>
<line x1="352.50" y1="878.00" x2="397.00" y2="878.00" stroke="#000" stroke-width="1.45"/>
<polyline points="384.50,874.20 396.50,878.00 384.50,881.80" fill="none" stroke="#000" stroke-width="1.9"/>
<text transform="translate(372.50,876.00) rotate(0) scale(0.75,1)" font-size="16" text-anchor="middle" fill="#000" dx="-1.25">1</text>
<line x1="0.00" y1="458.80" x2="27.00" y2="458.80" stroke="#000" stroke-width="2.6"/>
<line x1="9.60" y1="459.00" x2="9.60" y2="504.00" stroke="#000" stroke-width="1.45"/>
<polyline points="5.60,472.60 9.60,460.30 13.60,472.60" fill="none" stroke="#000" stroke-width="2.0"/>
<text transform="translate(2.30,489.00) rotate(0) scale(0.77,1)" font-size="17.5" text-anchor="middle" fill="#000">2</text>
<line x1="720.40" y1="458.70" x2="755.00" y2="458.70" stroke="#000" stroke-width="2.6"/>
<line x1="737.80" y1="459.00" x2="737.80" y2="504.00" stroke="#000" stroke-width="1.45"/>
<polyline points="733.80,472.60 737.80,460.30 741.80,472.60" fill="none" stroke="#000" stroke-width="2.0"/>
<text transform="translate(730.90,488.80) rotate(0) scale(0.77,1)" font-size="17.5" text-anchor="middle" fill="#000">2</text>
<line x1="77.10" y1="227.90" x2="91.30" y2="242.10" stroke="#000" stroke-width="2.4" stroke-linecap="round"/>
<line x1="77.10" y1="649.72" x2="91.30" y2="663.92" stroke="#000" stroke-width="2.4" stroke-linecap="round"/>
<line x1="118.40" y1="227.90" x2="132.60" y2="242.10" stroke="#000" stroke-width="2.4" stroke-linecap="round"/>
<line x1="118.40" y1="367.56" x2="132.60" y2="381.76" stroke="#000" stroke-width="2.4" stroke-linecap="round"/>
<line x1="118.40" y1="418.09" x2="132.60" y2="432.29" stroke="#000" stroke-width="2.4" stroke-linecap="round"/>
<line x1="118.40" y1="582.82" x2="132.60" y2="597.02" stroke="#000" stroke-width="2.4" stroke-linecap="round"/>
<line x1="118.40" y1="649.72" x2="132.60" y2="663.92" stroke="#000" stroke-width="2.4" stroke-linecap="round"/>
<line x1="158.30" y1="227.90" x2="172.50" y2="242.10" stroke="#000" stroke-width="2.4" stroke-linecap="round"/>
<line x1="158.30" y1="337.75" x2="172.50" y2="351.95" stroke="#000" stroke-width="2.4" stroke-linecap="round"/>
<line x1="158.30" y1="367.56" x2="172.50" y2="381.76" stroke="#000" stroke-width="2.4" stroke-linecap="round"/>
<line x1="158.30" y1="418.09" x2="172.50" y2="432.29" stroke="#000" stroke-width="2.4" stroke-linecap="round"/>
<line x1="158.30" y1="426.23" x2="172.50" y2="440.43" stroke="#000" stroke-width="2.4" stroke-linecap="round"/>
<line x1="158.30" y1="471.71" x2="172.50" y2="485.91" stroke="#000" stroke-width="2.4" stroke-linecap="round"/>
<line x1="158.30" y1="582.82" x2="172.50" y2="597.02" stroke="#000" stroke-width="2.4" stroke-linecap="round"/>
<line x1="158.30" y1="649.72" x2="172.50" y2="663.92" stroke="#000" stroke-width="2.4" stroke-linecap="round"/>
<line x1="176.80" y1="224.11" x2="191.00" y2="238.31" stroke="#000" stroke-width="2.4" stroke-linecap="round"/>
<line x1="176.80" y1="586.61" x2="191.00" y2="600.81" stroke="#000" stroke-width="2.4" stroke-linecap="round"/>
<line x1="176.80" y1="653.51" x2="191.00" y2="667.71" stroke="#000" stroke-width="2.4" stroke-linecap="round"/>
<line x1="208.91" y1="688.10" x2="223.11" y2="673.90" stroke="#000" stroke-width="2.4" stroke-linecap="round"/>
<line x1="318.53" y1="688.10" x2="332.73" y2="673.90" stroke="#000" stroke-width="2.4" stroke-linecap="round"/>
<line x1="448.72" y1="688.10" x2="462.92" y2="673.90" stroke="#000" stroke-width="2.4" stroke-linecap="round"/>
<line x1="672.56" y1="688.10" x2="686.76" y2="673.90" stroke="#000" stroke-width="2.4" stroke-linecap="round"/>
<line x1="212.70" y1="718.60" x2="226.90" y2="704.40" stroke="#000" stroke-width="2.4" stroke-linecap="round"/>
<line x1="306.15" y1="718.60" x2="320.35" y2="704.40" stroke="#000" stroke-width="2.4" stroke-linecap="round"/>
<line x1="322.32" y1="718.60" x2="336.52" y2="704.40" stroke="#000" stroke-width="2.4" stroke-linecap="round"/>
<line x1="365.94" y1="718.60" x2="380.14" y2="704.40" stroke="#000" stroke-width="2.4" stroke-linecap="round"/>
<line x1="383.47" y1="718.60" x2="397.67" y2="704.40" stroke="#000" stroke-width="2.4" stroke-linecap="round"/>
<line x1="401.32" y1="718.60" x2="415.52" y2="704.40" stroke="#000" stroke-width="2.4" stroke-linecap="round"/>
<line x1="445.18" y1="718.60" x2="459.38" y2="704.40" stroke="#000" stroke-width="2.4" stroke-linecap="round"/>
<line x1="481.47" y1="718.60" x2="495.67" y2="704.40" stroke="#000" stroke-width="2.4" stroke-linecap="round"/>
<line x1="505.58" y1="718.60" x2="519.78" y2="704.40" stroke="#000" stroke-width="2.4" stroke-linecap="round"/>
<line x1="668.77" y1="718.60" x2="682.97" y2="704.40" stroke="#000" stroke-width="2.4" stroke-linecap="round"/>
<line x1="212.70" y1="759.10" x2="226.90" y2="744.90" stroke="#000" stroke-width="2.4" stroke-linecap="round"/>
<line x1="322.32" y1="759.10" x2="336.52" y2="744.90" stroke="#000" stroke-width="2.4" stroke-linecap="round"/>
<line x1="383.47" y1="759.10" x2="397.67" y2="744.90" stroke="#000" stroke-width="2.4" stroke-linecap="round"/>
<line x1="445.18" y1="759.10" x2="459.38" y2="744.90" stroke="#000" stroke-width="2.4" stroke-linecap="round"/>
<line x1="481.47" y1="759.10" x2="495.67" y2="744.90" stroke="#000" stroke-width="2.4" stroke-linecap="round"/>
<line x1="505.58" y1="759.10" x2="519.78" y2="744.90" stroke="#000" stroke-width="2.4" stroke-linecap="round"/>
<line x1="668.77" y1="759.10" x2="682.97" y2="744.90" stroke="#000" stroke-width="2.4" stroke-linecap="round"/>
<line x1="212.70" y1="799.10" x2="226.90" y2="784.90" stroke="#000" stroke-width="2.4" stroke-linecap="round"/>
<line x1="668.77" y1="799.10" x2="682.97" y2="784.90" stroke="#000" stroke-width="2.4" stroke-linecap="round"/>
<line x1="208.91" y1="215.10" x2="223.11" y2="200.90" stroke="#000" stroke-width="2.4" stroke-linecap="round"/>
<line x1="672.56" y1="215.10" x2="686.76" y2="200.90" stroke="#000" stroke-width="2.4" stroke-linecap="round"/>
<line x1="697.50" y1="224.11" x2="711.70" y2="238.31" stroke="#000" stroke-width="2.4" stroke-linecap="round"/>
<line x1="697.50" y1="653.51" x2="711.70" y2="667.71" stroke="#000" stroke-width="2.4" stroke-linecap="round"/>
<line x1="209.01" y1="296.60" x2="223.01" y2="282.60" stroke="#000" stroke-width="3.3" stroke-linecap="round"/>
<line x1="212.80" y1="296.60" x2="226.80" y2="282.60" stroke="#000" stroke-width="3.3" stroke-linecap="round"/>
<line x1="217.80" y1="296.60" x2="231.80" y2="282.60" stroke="#000" stroke-width="3.3" stroke-linecap="round"/>
<line x1="478.03" y1="296.60" x2="492.03" y2="282.60" stroke="#000" stroke-width="3.3" stroke-linecap="round"/>
<line x1="481.57" y1="296.60" x2="495.57" y2="282.60" stroke="#000" stroke-width="3.3" stroke-linecap="round"/>
<line x1="485.11" y1="296.60" x2="499.11" y2="282.60" stroke="#000" stroke-width="3.3" stroke-linecap="round"/>
<line x1="663.87" y1="296.60" x2="677.87" y2="282.60" stroke="#000" stroke-width="3.3" stroke-linecap="round"/>
<line x1="668.87" y1="296.60" x2="682.87" y2="282.60" stroke="#000" stroke-width="3.3" stroke-linecap="round"/>
<line x1="672.66" y1="296.60" x2="686.66" y2="282.60" stroke="#000" stroke-width="3.3" stroke-linecap="round"/>
<line x1="209.01" y1="513.60" x2="223.01" y2="499.60" stroke="#000" stroke-width="3.3" stroke-linecap="round"/>
<line x1="212.80" y1="513.60" x2="226.80" y2="499.60" stroke="#000" stroke-width="3.3" stroke-linecap="round"/>
<line x1="217.80" y1="513.60" x2="231.80" y2="499.60" stroke="#000" stroke-width="3.3" stroke-linecap="round"/>
<line x1="478.03" y1="513.60" x2="492.03" y2="499.60" stroke="#000" stroke-width="3.3" stroke-linecap="round"/>
<line x1="481.57" y1="513.60" x2="495.57" y2="499.60" stroke="#000" stroke-width="3.3" stroke-linecap="round"/>
<line x1="485.11" y1="513.60" x2="499.11" y2="499.60" stroke="#000" stroke-width="3.3" stroke-linecap="round"/>
<line x1="663.87" y1="513.60" x2="677.87" y2="499.60" stroke="#000" stroke-width="3.3" stroke-linecap="round"/>
<line x1="668.87" y1="513.60" x2="682.87" y2="499.60" stroke="#000" stroke-width="3.3" stroke-linecap="round"/>
<line x1="672.66" y1="513.60" x2="686.66" y2="499.60" stroke="#000" stroke-width="3.3" stroke-linecap="round"/>
<line x1="380.04" y1="296.60" x2="394.04" y2="282.60" stroke="#000" stroke-width="3.3" stroke-linecap="round"/>
<line x1="383.57" y1="296.60" x2="397.57" y2="282.60" stroke="#000" stroke-width="3.3" stroke-linecap="round"/>
<line x1="387.11" y1="296.60" x2="401.11" y2="282.60" stroke="#000" stroke-width="3.3" stroke-linecap="round"/>
<line x1="318.88" y1="513.60" x2="332.88" y2="499.60" stroke="#000" stroke-width="3.3" stroke-linecap="round"/>
<line x1="322.42" y1="513.60" x2="336.42" y2="499.60" stroke="#000" stroke-width="3.3" stroke-linecap="round"/>
<line x1="325.96" y1="513.60" x2="339.96" y2="499.60" stroke="#000" stroke-width="3.3" stroke-linecap="round"/>
<line x1="276.40" y1="224.21" x2="290.40" y2="238.21" stroke="#000" stroke-width="3.3" stroke-linecap="round"/>
<line x1="276.40" y1="228.00" x2="290.40" y2="242.00" stroke="#000" stroke-width="3.3" stroke-linecap="round"/>
<line x1="276.40" y1="233.00" x2="290.40" y2="247.00" stroke="#000" stroke-width="3.3" stroke-linecap="round"/>
<line x1="276.40" y1="577.92" x2="290.40" y2="591.92" stroke="#000" stroke-width="3.3" stroke-linecap="round"/>
<line x1="276.40" y1="582.92" x2="290.40" y2="596.92" stroke="#000" stroke-width="3.3" stroke-linecap="round"/>
<line x1="276.40" y1="586.71" x2="290.40" y2="600.71" stroke="#000" stroke-width="3.3" stroke-linecap="round"/>
<line x1="356.80" y1="224.21" x2="370.80" y2="238.21" stroke="#000" stroke-width="3.3" stroke-linecap="round"/>
<line x1="356.80" y1="228.00" x2="370.80" y2="242.00" stroke="#000" stroke-width="3.3" stroke-linecap="round"/>
<line x1="356.80" y1="233.00" x2="370.80" y2="247.00" stroke="#000" stroke-width="3.3" stroke-linecap="round"/>
<line x1="356.80" y1="577.92" x2="370.80" y2="591.92" stroke="#000" stroke-width="3.3" stroke-linecap="round"/>
<line x1="356.80" y1="582.92" x2="370.80" y2="596.92" stroke="#000" stroke-width="3.3" stroke-linecap="round"/>
<line x1="356.80" y1="586.71" x2="370.80" y2="600.71" stroke="#000" stroke-width="3.3" stroke-linecap="round"/>
<line x1="640.70" y1="224.21" x2="654.70" y2="238.21" stroke="#000" stroke-width="3.3" stroke-linecap="round"/>
<line x1="640.70" y1="228.00" x2="654.70" y2="242.00" stroke="#000" stroke-width="3.3" stroke-linecap="round"/>
<line x1="640.70" y1="233.00" x2="654.70" y2="247.00" stroke="#000" stroke-width="3.3" stroke-linecap="round"/>
<line x1="640.70" y1="577.92" x2="654.70" y2="591.92" stroke="#000" stroke-width="3.3" stroke-linecap="round"/>
<line x1="640.70" y1="582.92" x2="654.70" y2="596.92" stroke="#000" stroke-width="3.3" stroke-linecap="round"/>
<line x1="640.70" y1="586.71" x2="654.70" y2="600.71" stroke="#000" stroke-width="3.3" stroke-linecap="round"/>
<line x1="276.40" y1="328.10" x2="290.40" y2="342.10" stroke="#000" stroke-width="3.3" stroke-linecap="round"/>
<line x1="276.40" y1="333.15" x2="290.40" y2="347.15" stroke="#000" stroke-width="3.3" stroke-linecap="round"/>
<line x1="276.40" y1="416.93" x2="290.40" y2="430.93" stroke="#000" stroke-width="3.3" stroke-linecap="round"/>
<line x1="276.40" y1="418.19" x2="290.40" y2="432.19" stroke="#000" stroke-width="3.3" stroke-linecap="round"/>
<line x1="276.40" y1="421.98" x2="290.40" y2="435.98" stroke="#000" stroke-width="3.3" stroke-linecap="round"/>
<line x1="356.80" y1="366.40" x2="370.80" y2="380.40" stroke="#000" stroke-width="3.3" stroke-linecap="round"/>
<line x1="356.80" y1="367.66" x2="370.80" y2="381.66" stroke="#000" stroke-width="3.3" stroke-linecap="round"/>
<line x1="356.80" y1="371.45" x2="370.80" y2="385.45" stroke="#000" stroke-width="3.3" stroke-linecap="round"/>
<line x1="356.80" y1="647.35" x2="370.80" y2="661.35" stroke="#000" stroke-width="3.3" stroke-linecap="round"/>
<line x1="356.80" y1="649.82" x2="370.80" y2="663.82" stroke="#000" stroke-width="3.3" stroke-linecap="round"/>
<line x1="356.80" y1="653.61" x2="370.80" y2="667.61" stroke="#000" stroke-width="3.3" stroke-linecap="round"/>
</svg>
</body></html>
